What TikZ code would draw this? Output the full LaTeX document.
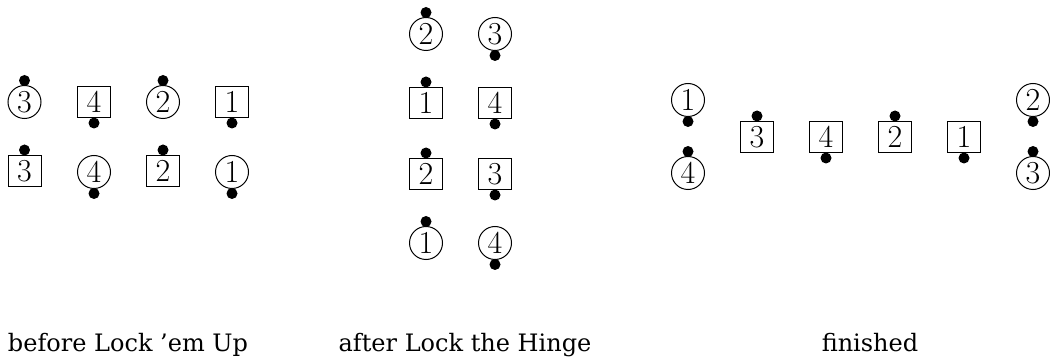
\documentclass[tikz,border=0pt]{standalone}
\usepackage{fontspec}
\setmainfont{Latin Modern Roman}
\newfontfamily\labelfont{DejaVu Serif}
\tikzset{
  disc/.style={circle,draw,line width=1pt,minimum size=33pt,inner sep=0pt,font=\fontsize{32}{32}\selectfont},
  sq/.style={rectangle,draw,line width=1pt,minimum width=33pt,minimum height=31pt,inner sep=0pt,font=\fontsize{32}{32}\selectfont},
  dot/.style={circle,fill=black,minimum size=11pt,inner sep=0pt},
  caption/.style={anchor=base,inner sep=0pt,font=\labelfont\fontsize{24}{24}\selectfont}
}
\begin{document}
\begin{tikzpicture}[x=1pt,y=-1pt]
\useasboundingbox (0,0) rectangle (1050,358);
\foreach \nm/\shp/\x/\y/\d/\anc/\s in {
  aA/disc/24.5/102/3/north/4.5, aB/sq/94/102/4/south/-5, aC/disc/163/102/2/north/4.5, aD/sq/232/102/1/south/-5,
  aE/sq/24.5/171/3/north/5, aF/disc/94/172/4/south/-4.5, aG/sq/163/171/2/north/5, aH/disc/232/172/1/south/-4.5,
  bA/disc/426/34/2/north/4.5, bB/disc/495/34/3/south/-4.5,
  bC/sq/426/103/1/north/5, bD/sq/495/103/4/south/-5,
  bE/sq/426/174/2/north/5, bF/sq/495/174/3/south/-5,
  bG/disc/426/243/1/north/4.5, bH/disc/495/243/4/south/-4.5,
  cA/disc/688/100/1/south/-4.5, cB/disc/688/173/4/north/4.5,
  cC/sq/757/137/3/north/5, cD/sq/826/137/4/south/-5, cE/sq/895/137/2/north/5, cF/sq/964/137/1/south/-5,
  cG/disc/1033/100/2/south/-4.5, cH/disc/1033/173/3/north/4.5}
{
  \node[\shp] (\nm) at (\x,\y) {\d};
  \node[dot] (\nm-d) at ([yshift=\s pt]\nm.\anc) {};
}
\node[caption] (capA) at (128,351) {before Lock ’em Up};
\node[caption] (capB) at (465,351) {after Lock the Hinge};
\node[caption] (capC) at (870,351) {finished};
\end{tikzpicture}
\end{document}
